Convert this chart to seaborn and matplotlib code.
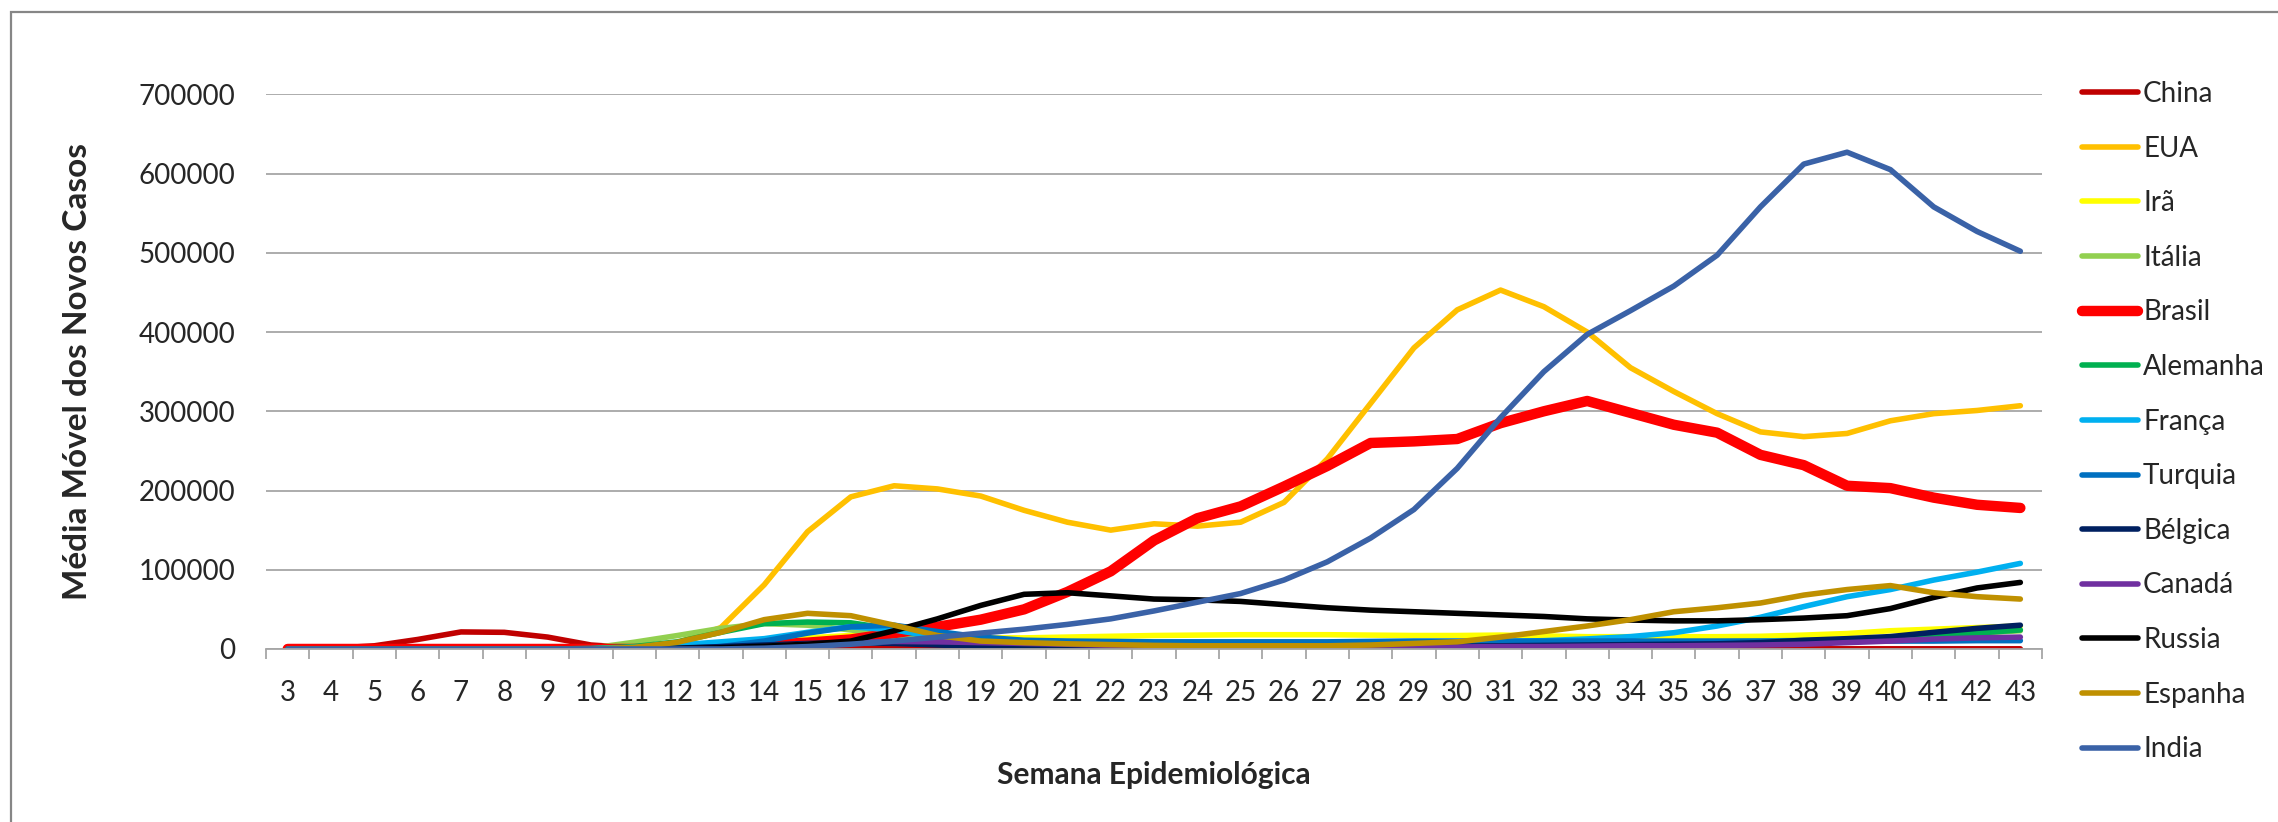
import numpy as np
import pandas as pd
import matplotlib
matplotlib.use("Agg")
import matplotlib.pyplot as plt
import seaborn as sns
from matplotlib.patches import Rectangle
from matplotlib.ticker import MultipleLocator, FixedLocator

# --- data: weekly moving average of new cases, epidemiological weeks 3..43 ---
weeks = list(range(3, 44))

china = [500, 800, 4000, 12000, 21500, 21000, 15000, 5000, 1500, 800, 600, 500, 400, 300,
         200, 200, 200, 200, 200, 200, 200, 200, 200, 200, 200, 200, 200, 200, 200, 200,
         200, 200, 200, 200, 200, 200, 200, 200, 200, 200, 200]
eua = [0, 0, 0, 0, 0, 0, 0, 100, 1000, 8000, 27000, 81000, 148000, 192000, 206000, 202000,
       193000, 175000, 160000, 150000, 158000, 155000, 160000, 185000, 240000, 310000,
       380000, 428000, 453000, 432000, 400000, 355000, 325000, 297000, 274000, 268000,
       272000, 288000, 297000, 301000, 307000]
ira = [0, 0, 0, 0, 0, 0, 0, 0, 3000, 5000, 7000, 11000, 14000, 17000, 15000, 13000, 14000,
       14000, 15000, 16000, 17000, 17500, 18000, 18000, 18000, 17500, 17000, 17000, 17500,
       16500, 15500, 15500, 15500, 15500, 16000, 17500, 19500, 23000, 25000, 27000, 29000]
italia = [0, 0, 0, 0, 0, 0, 0, 1000, 8500, 17000, 26000, 32000, 30000, 24000, 17000, 11000,
          7000, 4500, 3000, 2000, 1500, 1500, 1500, 1500, 1500, 1500, 1500, 1500, 2000, 3000,
          4000, 5500, 7000, 9000, 10000, 11000, 12000, 14000, 17000, 20000, 23000]
brasil = [0, 0, 0, 0, 0, 0, 0, 0, 0, 500, 2000, 5000, 8000, 12000, 20000, 28000, 37000,
          50000, 72000, 98000, 137000, 165000, 180000, 205000, 231000, 260000, 262000,
          265000, 285000, 300000, 313000, 298000, 283000, 273000, 245000, 232000, 206000,
          203000, 191000, 182000, 178000]
alemanha = [0, 0, 0, 0, 0, 0, 0, 500, 3000, 9000, 21000, 32000, 34000, 33000, 25000, 14000,
            8000, 5000, 4000, 3500, 3000, 3000, 3000, 3000, 3500, 4000, 5000, 5500, 6000,
            6000, 6000, 7000, 7500, 8000, 9000, 10000, 11000, 13000, 17000, 20000, 24000]
franca = [0, 0, 0, 0, 0, 0, 0, 500, 2000, 5000, 9000, 13000, 21000, 28000, 24000, 15000,
          10000, 7000, 5500, 4500, 4000, 3500, 3500, 3500, 4000, 5000, 6500, 8000, 9300,
          10500, 12700, 15600, 20500, 29000, 40000, 53500, 66000, 75000, 87000, 97000, 108000]
turquia = [0, 0, 0, 0, 0, 0, 0, 0, 0, 500, 3000, 10000, 20000, 28000, 30000, 22000, 15000,
           11000, 10000, 9500, 9000, 9000, 9000, 9000, 9000, 9500, 10000, 10000, 10000,
           10000, 10000, 10000, 10000, 10000, 10000, 10000, 10000, 10000, 10000, 10500, 10500]
belgica = [0, 0, 0, 0, 0, 0, 0, 0, 0, 1000, 3000, 5000, 7000, 8000, 7000, 5000, 3500, 2500,
           1500, 1000, 1000, 1000, 1000, 1000, 1500, 2500, 3000, 3500, 4000, 4500, 5000,
           5500, 6000, 6500, 8000, 11000, 13000, 15600, 21000, 26000, 30000]
canada = [0, 0, 0, 0, 0, 0, 0, 0, 0, 0, 1000, 3000, 6000, 8000, 9500, 9000, 8000, 7000,
          6000, 4500, 3000, 2500, 2000, 2000, 2000, 2000, 2000, 2500, 3000, 3000, 3500,
          4000, 4000, 4500, 5000, 6000, 8000, 10000, 12500, 14000, 15000]
russia = [0, 0, 0, 0, 0, 0, 0, 0, 0, 500, 1500, 3500, 6000, 10000, 23000, 38000, 55000,
          69000, 71000, 67000, 63000, 62000, 60000, 56000, 52000, 49000, 47000, 45000, 43000,
          41000, 38000, 36500, 35500, 35500, 37000, 39000, 42000, 51000, 65000, 77000, 84000]
espanha = [0, 0, 0, 0, 0, 0, 0, 0, 2000, 8500, 21000, 37000, 45000, 42000, 30000, 17000,
           10000, 8000, 6500, 5500, 4500, 4000, 4000, 4000, 4000, 5000, 7000, 9000, 15000,
           22000, 29000, 37000, 47000, 52000, 58000, 68000, 75000, 80000, 71000, 66000, 63000]
india = [0, 0, 0, 0, 0, 0, 0, 0, 0, 0, 0, 1000, 3000, 6000, 10000, 15000, 20000, 25000,
         31000, 38000, 48000, 59000, 70000, 87000, 110000, 140000, 176000, 228000, 292000,
         350000, 397000, 427000, 458000, 497000, 558000, 612000, 627000, 605000, 558000,
         527000, 502000]

countries = ["China", "EUA", "Irã", "Itália", "Brasil", "Alemanha", "França", "Turquia",
             "Bélgica", "Canadá", "Russia", "Espanha", "India"]
values = [china, eua, ira, italia, brasil, alemanha, franca, turquia, belgica, canada,
          russia, espanha, india]
colors = ["#C00000", "#FFC000", "#FFFF00", "#92D050", "#FF0000", "#00B050", "#00B0F0",
          "#0070C0", "#002060", "#7030A0", "#000000", "#BF9000", "#3A62A7"]

df = pd.concat([pd.DataFrame({"semana": weeks, "casos": v, "pais": c})
                for c, v in zip(countries, values)], ignore_index=True)

# --- style ---
sns.set_style("white")
plt.rcParams["font.family"] = ["Lato", "DejaVu Sans"]

fig = plt.figure(figsize=(22.78, 8.22), dpi=100)
ax = fig.add_axes([0.1168, 0.2105, 0.7796, 0.6747])

for c, col in zip(countries, colors):
    lw = 7.5 if c == "Brasil" else 4
    sns.lineplot(data=df[df["pais"] == c], x="semana", y="casos", color=col, lw=lw,
                 label=c, ax=ax, solid_capstyle="round")

ax.set_xlim(2.5, 43.5)
ax.set_ylim(0, 700000)
ax.xaxis.set_major_locator(FixedLocator(weeks))
ax.xaxis.set_minor_locator(FixedLocator(np.arange(2.5, 44, 1)))
ax.set_xticklabels([str(w) for w in weeks])
ax.yaxis.set_major_locator(MultipleLocator(100000))
ax.yaxis.set_major_formatter(matplotlib.ticker.FuncFormatter(lambda v, p: f"{int(v)}"))

ax.grid(axis="y", color="#A6A6A6", lw=1.3)
ax.grid(axis="x", visible=False)
for s in ["top", "right", "left"]:
    ax.spines[s].set_visible(False)
ax.spines["bottom"].set_color("#A6A6A6")
ax.spines["bottom"].set_linewidth(1.3)
ax.set_axisbelow(True)

ax.tick_params(axis="x", which="major", length=0, pad=22, labelsize=20)
ax.tick_params(axis="x", which="minor", length=7, width=1.3, color="#A6A6A6", bottom=True)
ax.tick_params(axis="y", length=0, pad=22, labelsize=20)

ax.set_xlabel("Semana Epidemiológica", fontsize=21.5, fontweight="bold", labelpad=40)
ax.set_ylabel("Média Móvel dos Novos Casos", fontsize=24, fontweight="bold", labelpad=34)

leg = ax.legend(loc="upper left", bbox_to_anchor=(2082 / 2278, 1 - 81 / 822),
                bbox_transform=fig.transFigure, frameon=False, fontsize=20,
                handlelength=2.0, handletextpad=0.2, labelspacing=1.03,
                borderpad=0, borderaxespad=0)

# outer chart frame (clipped at right and bottom like the original)
fig.patches.append(Rectangle((11 / 2278, -0.1), 1.2, 1.1 - 12 / 822,
                             transform=fig.transFigure, fill=False,
                             edgecolor="#868686", lw=1.6))

fig.savefig("out.png", dpi=100)
